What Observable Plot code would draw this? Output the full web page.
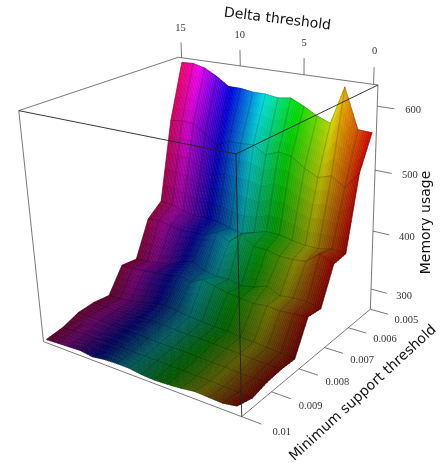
<!DOCTYPE html>
<html><head><meta charset="utf-8">
<style>html,body{margin:0;background:#fff}svg{display:block;filter:blur(.35px)}</style>
<script src="https://cdn.jsdelivr.net/npm/d3@7"></script>
<script src="https://cdn.jsdelivr.net/npm/@observablehq/plot@0.6"></script>
</head><body><div id="chart"></div>
<script>
const deltas=[0,1,2,3,4,5,6,7,8,9,10,11,12,13,14,15];
const supports=[0.005,0.0055,0.006,0.0065,0.007,0.0075,0.008,0.0085,0.009,0.0095,0.01];
const mem0=[558,559,622,562,570,582,592,589,592,592,595,595,609,620,625,624];
const mem1=[505,478,492,485,496,511,514,505,518,516,516,505,521,535,536,533];
const mem2=[388,390,385,385,388,392,392,385,378,382,388,390,388,392,398,400];
const mem3=[385,396,378,375,375,380,380,396,377,388,378,377,375,378,383,380];
const mem4=[327,332,332,329,339,331,327,332,331,335,345,338,328,325,322,320];
const mem5=[330,328,326,328,325,328,330,335,340,330,335,330,328,325,324,323];
const mem6=[278,280,282,284,285,288,288,290,292,295,298,295,290,286,284,283];
const mem7=[279,280,280,282,283,284,285,285,286,288,288,287,286,285,285,286];
const mem8=[277,276,276,278,278,279,280,280,280,281,282,282,282,283,284,284];
const mem9=[271,272,273,274,274,275,275,276,276,276,277,277,276,276,275,274];
const mem10=[278,274,275,276,273,271,270,271,274,274,273,270,273,272,271,270];
const memory=[mem0,mem1,mem2,mem3,mem4,mem5,mem6,mem7,mem8,mem9,mem10];
const deltaTicks=[15,10,5,0];
const supportTicks=[0.01,0.009,0.008,0.007,0.006,0.005];
const supportLabels=["0.01","0.009","0.008","0.007","0.006","0.005"];
const memoryTicks=[300,400,500,600];
const deltaRange=[-0.3,15.3],supportRange=[0.005,0.01],memoryRange=[264,632];
const camera=[-159.089,-169.432,-25.3377,369.837,-17.9193,37.0063,-231.610,308.753,0.130240,-0.169169,-0.0872749];

const P=camera;
function proj(u,v,w){const d=P[8]*u+P[9]*v+P[10]*w+1;return [(P[0]*u+P[1]*v+P[2]*w+P[3])/d,(P[4]*u+P[5]*v+P[6]*w+P[7])/d];}
const unit=([a,b])=>t=>(t-a)/(b-a);
const U=unit(deltaRange),V=unit(supportRange),W=unit(memoryRange);
const project=(d,s,m)=>proj(U(d),V(s),W(m));

function hsv(h,val){const f=n=>{const k=(n+h/60)%6;return val-val*Math.max(0,Math.min(k,4-k,1));};return `rgb(${Math.round(f(5)*255)},${Math.round(f(3)*255)},${Math.round(f(1)*255)})`;}
const surfaceColor=(d,m)=>hsv(d/15*335,Math.min(1,Math.max(.3,.33+(m-270)*.0017)));

const NA=5,NB=8,cells=[];let id=0;
for(let r=0;r<supports.length-1;r++)for(let c=0;c<deltas.length-1;c++){
  for(let a=0;a<NA;a++)for(let b=0;b<NB;b++){
    const at=(ta,tb)=>({m:(1-ta)*((1-tb)*memory[r][c]+tb*memory[r][c+1])+ta*((1-tb)*memory[r+1][c]+tb*memory[r+1][c+1]),
      d:deltas[c]+tb*(deltas[c+1]-deltas[c]),s:supports[r]+ta*(supports[r+1]-supports[r])});
    const mid=at((a+.5)/NA,(b+.5)/NB),fill=surfaceColor(mid.d,mid.m);
    for(const [ta,tb] of [[a,b],[a,b+1],[a+1,b+1],[a+1,b],[a,b]]){const p=at(ta/NA,tb/NB),[x,y]=project(p.d,p.s,p.m);cells.push({id,x,y,fill});}
    id++;
  }
}
const mesh=[];
memory.forEach((row,r)=>row.forEach((m,c)=>{const [x,y]=project(deltas[c],supports[r],m);mesh.push({k:"r"+r,x,y});}));
deltas.forEach((d,c)=>supports.forEach((s,r)=>{const [x,y]=project(d,s,memory[r][c]);mesh.push({k:"c"+c,x,y});}));

const corner=(u,v,w)=>{const [x,y]=proj(u,v,w);return {x,y};};
const edge=(a,b)=>{const p=corner(...a),q=corner(...b);return {x1:p.x,y1:p.y,x2:q.x,y2:q.y};};
const backEdges=[edge([1,0,1],[0,0,1]),edge([1,0,1],[1,1,1]),edge([1,1,1],[1,1,0]),edge([0,0,1],[0,0,0]),edge([1,1,0],[0,1,0]),edge([0,1,0],[0,0,0])];
const frontEdges=[edge([1,1,1],[0,1,1]),edge([0,1,1],[0,0,1]),edge([0,1,1],[0,1,0])];
const ticks=[];const labels=[];
deltaTicks.forEach(d=>{ticks.push(edge([U(d),0,1],[U(d),0,1.07]));labels.push({...corner(U(d),0,1.135),t:String(d)});});
supportTicks.forEach((s,i)=>{ticks.push(edge([0,V(s),0],[-.085,V(s),0]));labels.push({...corner(-.17,V(s),0),t:supportLabels[i]});});
memoryTicks.forEach(m=>{ticks.push(edge([0,0,W(m)],[-.075,0,W(m)]));const c=corner(-.155,0,W(m));labels.push({x:c.x,y:c.y-2,t:String(m)});});
const titles=[
 {x:277,y:18,t:"Delta threshold",r:7},
 {x:425,y:222,t:"Memory usage",r:-90},
 {x:362,y:392,t:"Minimum support threshold",r:-42.5}];
const seg={x1:"x1",y1:"y1",x2:"x2",y2:"y2"};
const svg=Plot.plot({width:448,height:466,margin:0,
  x:{domain:[0,448],range:[0,448],axis:null},y:{domain:[0,466],range:[0,466],axis:null},color:{type:"identity"},
  marks:[
   Plot.link(backEdges,{...seg,stroke:"#555",strokeWidth:.8}),
   Plot.link(ticks,{...seg,stroke:"#555",strokeWidth:.8}),
   Plot.line(cells,{x:"x",y:"y",z:"id",fill:"fill",stroke:"fill",strokeWidth:.6,curve:"linear"}),
   Plot.line(mesh,{x:"x",y:"y",z:"k",stroke:"#000",strokeOpacity:.3,strokeWidth:.6}),
   Plot.link(frontEdges,{...seg,stroke:"#222",strokeWidth:.9}),
   Plot.text(labels,{x:"x",y:"y",text:"t",fontSize:10.5,fill:"#333",fontFamily:"Liberation Serif"}),
   ...titles.map(t=>Plot.text([t],{x:"x",y:"y",text:"t",rotate:t.r,fontSize:14,fill:"#111",fontFamily:"DejaVu Sans"}))
  ]});
document.getElementById("chart").append(svg);
</script></body></html>
